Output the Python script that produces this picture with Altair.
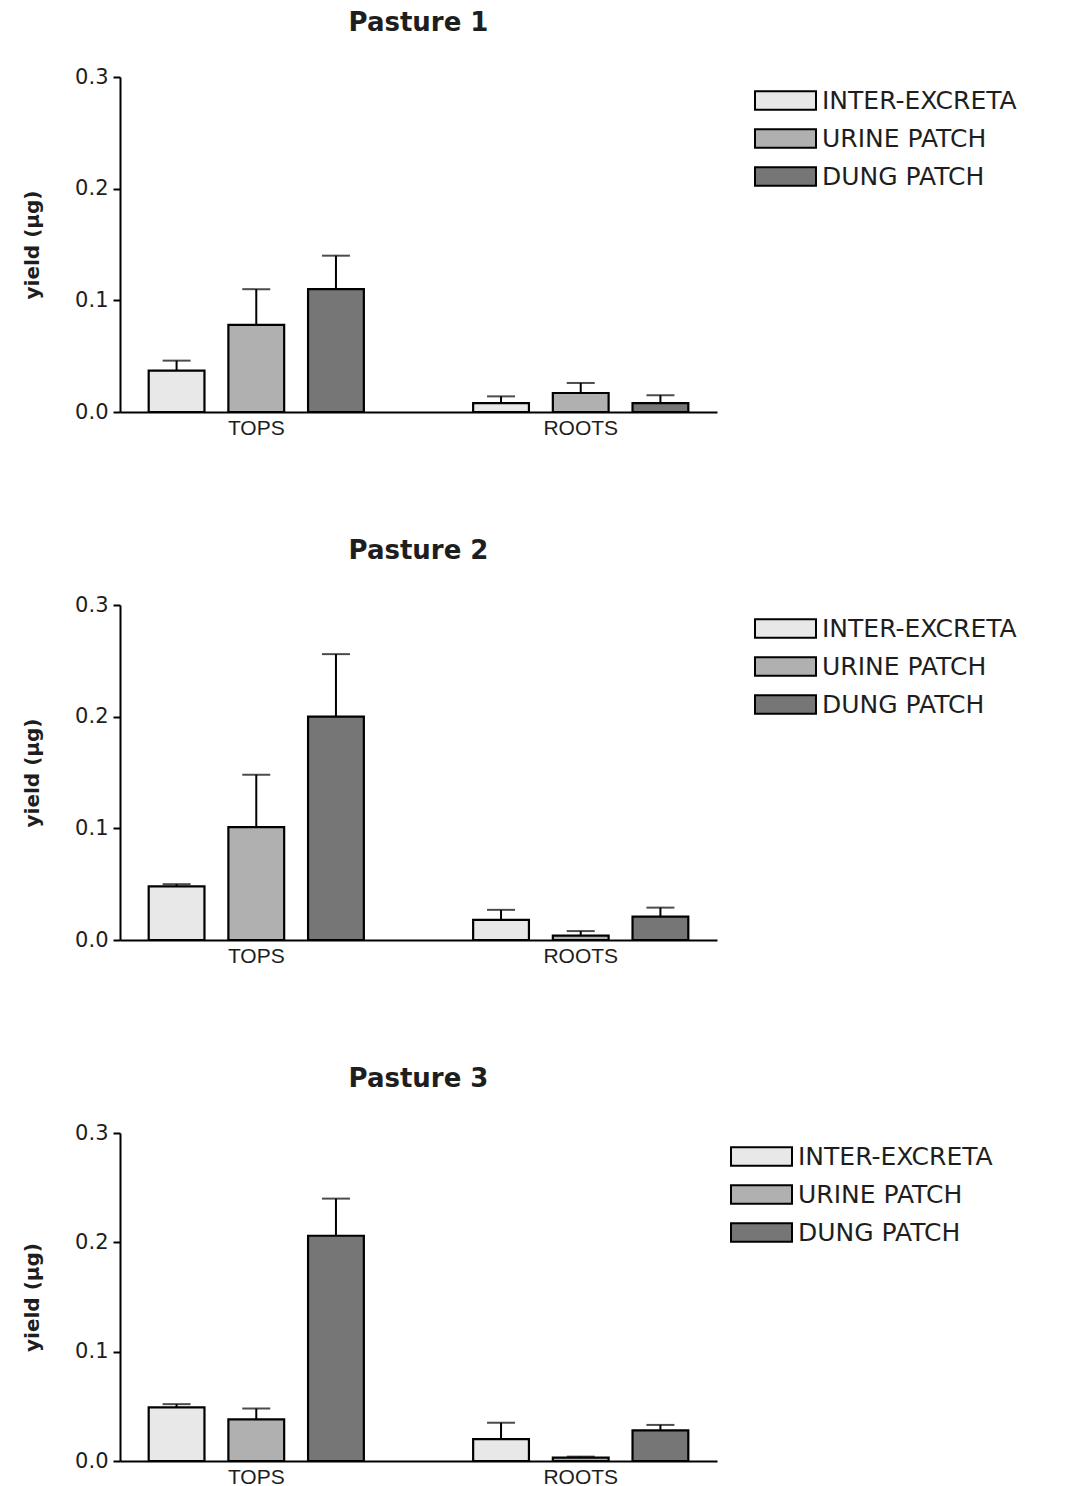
import altair as alt
import pandas as pd

# Yield of tops and roots under three excreta treatments, per pasture
pastures = ["Pasture 1", "Pasture 2", "Pasture 3"]
parts = ["TOPS", "ROOTS"]
treatments = ["INTER-EXCRETA", "URINE PATCH", "DUNG PATCH"]

# mean yield, ordered TOPS (inter, urine, dung) then ROOTS (inter, urine, dung)
p1_mean = [0.037, 0.078, 0.110, 0.008, 0.017, 0.008]
p1_se = [0.009, 0.032, 0.030, 0.006, 0.009, 0.007]
p2_mean = [0.048, 0.101, 0.200, 0.018, 0.004, 0.021]
p2_se = [0.002, 0.047, 0.056, 0.009, 0.004, 0.008]
p3_mean = [0.049, 0.038, 0.206, 0.020, 0.003, 0.028]
p3_se = [0.003, 0.010, 0.034, 0.015, 0.001, 0.005]

means = [p1_mean, p2_mean, p3_mean]
ses = [p1_se, p2_se, p3_se]

fills = ["#e8e8e8", "#b0b0b0", "#767676"]
SANS = "DejaVu Sans"
NARROW = "Liberation Sans"
INK = "#1e1e1e"


def panel(idx, legend_x, height):
    rows = []
    k = 0
    for part in parts:
        for t in treatments:
            m = means[idx][k]
            s = ses[idx][k]
            rows.append({"part": part, "treatment": t, "mean": m, "upper": m + s})
            k += 1
    df = pd.DataFrame(rows)

    x = alt.X("part:N", sort=parts, title=None,
              scale=alt.Scale(paddingInner=0.3, paddingOuter=0.07),
              axis=alt.Axis(labelAngle=0, ticks=False, labelFontSize=21,
                            labelFont=NARROW, labelColor=INK, labelPadding=5,
                            domainColor="black", domainWidth=2))
    xo = alt.XOffset("treatment:N", sort=treatments,
                     scale=alt.Scale(paddingInner=0.3, paddingOuter=0.075))

    base = alt.Chart(df)
    bars = base.mark_bar(stroke="black", strokeWidth=2.2).encode(
        x=x,
        xOffset=xo,
        y=alt.Y("mean:Q", title="yield (µg)",
                scale=alt.Scale(domain=[0, 0.3], nice=False),
                axis=alt.Axis(values=[0, 0.1, 0.2, 0.3], format=".1f",
                              grid=False, tickSize=7, tickWidth=2,
                              tickColor="black", domainColor="black",
                              domainWidth=2, labelFontSize=21, labelFont=SANS,
                              labelColor=INK, labelPadding=5,
                              titleFont=SANS, titleFontSize=20,
                              titleFontWeight="bold", titleColor=INK,
                              titlePadding=32)),
        fill=alt.Fill("treatment:N", sort=treatments,
                      scale=alt.Scale(domain=treatments, range=fills),
                      legend=alt.Legend(title=None, orient="none",
                                        legendX=legend_x, legendY=7,
                                        symbolType="M-2,-0.6H2V0.6H-2Z",
                                        symbolSize=930, symbolStrokeColor="black",
                                        symbolStrokeWidth=2, symbolOpacity=1,
                                        labelFont=SANS, labelFontSize=25,
                                        labelColor=INK, labelOffset=20,
                                        rowPadding=8, padding=0,
                                        labelLimit=400)),
    )
    err = base.mark_rule(color="black", strokeWidth=2).encode(
        x=x, xOffset=xo, y="mean:Q", y2="upper:Q")
    caps = base.mark_tick(color="black", thickness=2, size=28).encode(
        x=x, xOffset=xo, y="upper:Q")

    return alt.layer(bars, err, caps).properties(
        width=597, height=height,
        title=alt.TitleParams(pastures[idx], font=SANS, fontSize=26,
                              fontWeight="bold", color=INK,
                              anchor="middle", offset=30),
    )


chart = alt.vconcat(
    panel(0, 649, 335), panel(1, 649, 335), panel(2, 625, 328), spacing=100
).resolve_scale(fill="independent").configure_view(stroke=None).properties(
    padding={"left": 22, "top": 10, "right": 5, "bottom": 0},
    background="white",
)

chart.save("out.html", embed_options={"renderer": "svg", "actions": False})
